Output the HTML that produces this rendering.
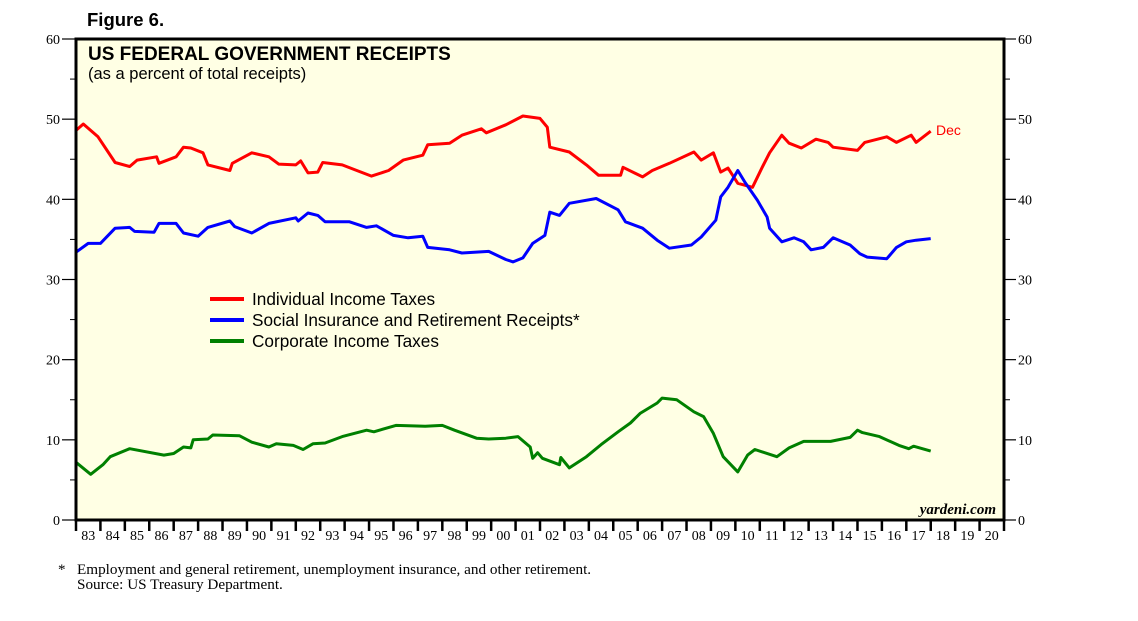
<!DOCTYPE html>
<html><head><meta charset="utf-8"><style>
body{margin:0;background:#fff;}
svg{display:block;font-family:"Liberation Sans",Arial,sans-serif;}
</style></head><body>
<svg id="chart" width="1138" height="621" viewBox="0 0 1138 621" xmlns="http://www.w3.org/2000/svg">
<text x="87" y="26" font-size="18.5" font-weight="bold">Figure 6.</text>
<rect x="76" y="39" width="928" height="481" fill="#ffffe4"/>
<text x="88" y="60" font-size="19" font-weight="bold">US FEDERAL GOVERNMENT RECEIPTS</text>
<text x="88" y="79" font-size="16.5">(as a percent of total receipts)</text>
<g id="axes"></g>
<g id="series"></g>
<rect x="76" y="39" width="928" height="481" fill="none" stroke="#000" stroke-width="3"/>
<text x="936" y="135" font-size="14" fill="#f00">Dec</text>
<text x="996" y="514" font-size="15" font-style="italic" font-weight="bold" text-anchor="end" font-family="Liberation Serif,serif">yardeni.com</text>
<g>
<line x1="210" y1="299" x2="244" y2="299" stroke="#f00" stroke-width="4"/>
<text x="252" y="305" font-size="17.2">Individual Income Taxes</text>
<line x1="210" y1="320" x2="244" y2="320" stroke="#00f" stroke-width="4"/>
<text x="252" y="326" font-size="17.2">Social Insurance and Retirement Receipts*</text>
<line x1="210" y1="341" x2="244" y2="341" stroke="#008000" stroke-width="4"/>
<text x="252" y="347" font-size="17.2">Corporate Income Taxes</text>
</g>
<text x="58" y="574" font-size="15" font-family="Liberation Serif,serif">*</text>
<text x="77" y="574" font-size="15.2" font-family="Liberation Serif,serif">Employment and general retirement, unemployment insurance, and other retirement.</text>
<text x="77" y="589" font-size="15.2" font-family="Liberation Serif,serif">Source: US Treasury Department.</text>
</svg>
<script>
const yTicks=[0,10,20,30,40,50,60];
const yearLabels=["83","84","85","86","87","88","89","90","91","92","93","94","95","96","97","98","99","00","01","02","03","04","05","06","07","08","09","10","11","12","13","14","15","16","17","18","19","20"];
const indDates=[1983.0,1983.3,1983.9,1984.6,1985.2,1985.5,1986.3,1986.4,1987.1,1987.4,1987.7,1988.2,1988.4,1989.3,1989.4,1990.2,1990.9,1991.3,1992.0,1992.2,1992.5,1992.9,1993.1,1993.9,1994.5,1995.1,1995.8,1996.4,1997.2,1997.4,1998.3,1998.8,1999.6,1999.8,2000.6,2001.3,2002.0,2002.3,2002.4,2003.2,2003.9,2004.4,2005.3,2005.4,2006.2,2006.6,2007.3,2008.3,2008.6,2009.1,2009.4,2009.7,2010.1,2010.7,2011.1,2011.4,2011.9,2012.2,2012.7,2013.3,2013.8,2014.0,2015.0,2015.3,2016.2,2016.6,2017.2,2017.4,2018.0];
const indValues=[48.6,49.4,47.8,44.6,44.1,44.9,45.3,44.5,45.3,46.5,46.4,45.8,44.3,43.6,44.5,45.8,45.3,44.4,44.3,44.8,43.3,43.4,44.6,44.3,43.6,42.9,43.6,44.9,45.5,46.8,47.0,48.0,48.8,48.3,49.3,50.4,50.1,49.0,46.5,45.9,44.3,43.0,43.0,44.0,42.8,43.6,44.5,45.9,44.9,45.8,43.4,43.9,42.0,41.5,44.0,45.8,48.0,47.0,46.4,47.5,47.1,46.5,46.1,47.1,47.8,47.1,48.0,47.1,48.5];
const socDates=[1983.0,1983.5,1984.0,1984.6,1985.2,1985.4,1986.2,1986.4,1987.1,1987.4,1988.0,1988.4,1989.3,1989.5,1990.2,1990.9,1992.0,1992.1,1992.5,1992.9,1993.2,1994.2,1994.9,1995.3,1996.0,1996.6,1997.2,1997.4,1998.3,1998.8,1999.9,2000.6,2000.9,2001.3,2001.7,2002.2,2002.4,2002.8,2003.2,2004.3,2005.2,2005.5,2006.2,2006.8,2007.3,2008.2,2008.6,2009.2,2009.4,2009.7,2010.1,2010.4,2010.9,2011.3,2011.4,2011.9,2012.4,2012.8,2013.1,2013.6,2014.0,2014.7,2015.1,2015.4,2016.2,2016.6,2017.0,2017.4,2018.0];
const socValues=[33.4,34.5,34.5,36.4,36.5,36.0,35.9,37.0,37.0,35.8,35.4,36.5,37.3,36.6,35.8,37.0,37.7,37.3,38.3,38.0,37.2,37.2,36.5,36.7,35.5,35.2,35.4,34.0,33.7,33.3,33.5,32.5,32.2,32.7,34.5,35.5,38.4,38.0,39.5,40.1,38.7,37.2,36.4,34.9,33.9,34.3,35.3,37.4,40.3,41.5,43.6,42.1,39.9,37.8,36.4,34.7,35.2,34.7,33.7,34.0,35.2,34.3,33.2,32.8,32.6,34.0,34.7,34.9,35.1];
const corDates=[1983.0,1983.6,1984.1,1984.4,1985.2,1986.6,1987.0,1987.4,1987.7,1987.8,1988.4,1988.6,1989.7,1990.2,1990.9,1991.2,1991.9,1992.3,1992.7,1993.2,1993.9,1994.9,1995.2,1996.1,1997.3,1998.0,1998.5,1999.4,1999.9,2000.6,2001.1,2001.6,2001.7,2001.9,2002.1,2002.8,2002.85,2003.2,2003.9,2004.5,2005.2,2005.7,2006.1,2006.8,2007.0,2007.6,2008.3,2008.7,2009.1,2009.5,2010.1,2010.5,2010.8,2011.7,2012.2,2012.8,2013.9,2014.7,2015.0,2015.2,2015.9,2016.7,2017.1,2017.3,2018.0];
const corValues=[7.2,5.7,6.9,7.9,8.9,8.1,8.3,9.1,9.0,10.0,10.1,10.6,10.5,9.7,9.1,9.5,9.3,8.8,9.5,9.6,10.4,11.2,11.0,11.8,11.7,11.8,11.2,10.2,10.1,10.2,10.4,9.1,7.7,8.4,7.7,6.9,7.8,6.5,7.9,9.4,11.0,12.1,13.3,14.6,15.2,15.0,13.5,12.9,10.8,7.9,6.0,8.1,8.8,7.9,9.0,9.8,9.8,10.3,11.2,10.9,10.4,9.3,8.9,9.2,8.6];

const NS="http://www.w3.org/2000/svg";
const X0=76,X1=1004,Y0=520,Y1=39,startYear=1983,nYears=38;
function xScale(t){return X0+(t-startYear)/nYears*(X1-X0);}
function yScale(v){return Y0-v/60*(Y0-Y1);}
const axes=document.getElementById('axes');
const series=document.getElementById('series');
function mk(tag,attrs,parent){const e=document.createElementNS(NS,tag);for(const k in attrs)e.setAttribute(k,attrs[k]);parent.appendChild(e);return e;}
yTicks.forEach(v=>{
  const y=yScale(v);
  const l1=mk('line',{x1:62,x2:76,y1:y,y2:y,stroke:'#000','stroke-width':1.2},axes);
  
  
  const l2=mk('line',{x1:1004,x2:1016,y1:y,y2:y,stroke:'#000','stroke-width':1.2},axes);
  
  
  const t1=mk('text',{x:60,y:y+5,'font-size':14,'text-anchor':'end','font-family':'Liberation Serif,serif'},axes);
  t1.textContent=v;
  
  
  const t2=mk('text',{x:1018,y:y+5,'font-size':14,'font-family':'Liberation Serif,serif'},axes);
  t2.textContent=v;
  
  
  if(v<60){const ym=yScale(v+5);
    const m1=mk('line',{x1:70,x2:76,y1:ym,y2:ym,stroke:'#000','stroke-width':1},axes);
    
    
    const m2=mk('line',{x1:1004,x2:1010,y1:ym,y2:ym,stroke:'#000','stroke-width':1},axes);
    
    }
});
yearLabels.forEach((lab,i)=>{
  const x=xScale(startYear+i);
  const tk=mk('line',{x1:x,x2:x,y1:520,y2:531,stroke:'#000','stroke-width':2.5},axes);
  
  
  const t=mk('text',{x:xScale(startYear+i+0.5),y:540,'font-size':14,'text-anchor':'middle','font-family':'Liberation Serif,serif'},axes);
  t.textContent=lab;
  
  
});
const endTick=mk('line',{x1:X1,x2:X1,y1:520,y2:531,stroke:'#000','stroke-width':2.5},axes);


function drawLine(dates,vals,color,name){
  const d=dates.map((t,i)=>(i?'L':'M')+xScale(t).toFixed(1)+','+yScale(vals[i]).toFixed(1)).join(' ');
  const p=mk('path',{d:d,fill:'none',stroke:color,'stroke-width':3,'stroke-linejoin':'round'},series);
  
  
}
drawLine(indDates,indValues,'#f00','individual-income-line');
drawLine(socDates,socValues,'#00f','social-insurance-line');
drawLine(corDates,corValues,'#008000','corporate-income-line');
</script>
</body></html>
